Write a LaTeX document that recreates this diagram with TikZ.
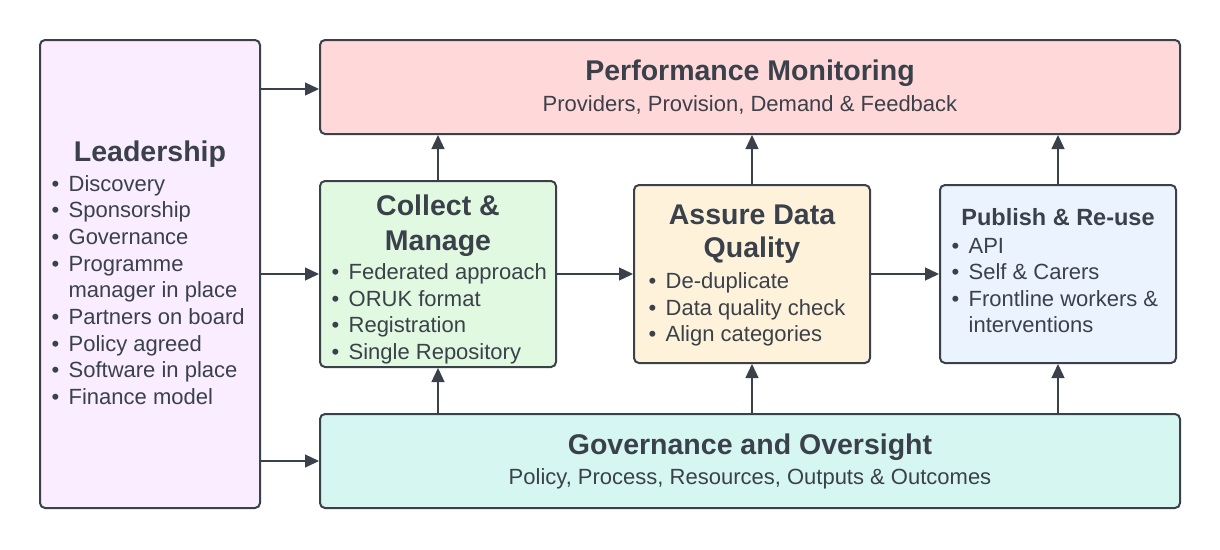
\documentclass[tikz,border=0pt]{standalone}
\usepackage{fontspec}
\setmainfont{Liberation Sans}
\usetikzlibrary{arrows.meta}
\definecolor{ink}{HTML}{3A414A}
\definecolor{leadfill}{HTML}{F9EDFF}
\definecolor{perffill}{HTML}{FFD9D9}
\definecolor{collfill}{HTML}{E1F9E1}
\definecolor{assurefill}{HTML}{FFF2DB}
\definecolor{pubfill}{HTML}{EBF3FF}
\definecolor{govfill}{HTML}{D6F7F1}
\newcommand{\bul}{\makebox[17pt][l]{•}}
\newcommand{\gap}{\makebox[17pt][l]{}}

\begin{document}
\begin{tikzpicture}[x=1pt,y=-1pt,->,>={Triangle[length=14pt,width=13pt]},draw=ink,line width=1.3pt,text=ink]
    \tikzstyle{box}=[draw=ink,line width=2pt,rounded corners=5pt,inner sep=0pt]
    \tikzstyle{title}=[font=\fontsize{28.5}{34}\selectfont\bfseries,anchor=base,inner sep=0pt]
    \tikzstyle{sub}=[font=\fontsize{22}{27}\selectfont,anchor=base,inner sep=0pt]
    \tikzstyle{item}=[font=\fontsize{22}{27}\selectfont,anchor=base west,inner sep=0pt]
    \useasboundingbox (0,0) rectangle (1220,549);

    % Draw the boxes
    \node[box,fill=leadfill,minimum width=220pt,minimum height=468pt] (lead) at (150,274) {};
    \node[box,fill=perffill,minimum width=860pt,minimum height=94pt] (perf) at (750,87) {};
    \node[box,fill=collfill,minimum width=236pt,minimum height=186pt] (coll) at (438,274) {};
    \node[box,fill=assurefill,minimum width=236pt,minimum height=178pt] (assure) at (752,274) {};
    \node[box,fill=pubfill,minimum width=236pt,minimum height=178pt] (pub) at (1058,274) {};
    \node[box,fill=govfill,minimum width=860pt,minimum height=94pt] (gov) at (750,461) {};

    % Titles
    \node[title] (lead-t) at (150,161) {Leadership};
    \node[title] (perf-t) at (750,80.7) {Performance Monitoring};
    \node[sub] (perf-s) at (750,111) {Providers, Provision, Demand \& Feedback};
    \node[title] (coll-t1) at (438,215) {Collect \&};
    \node[title] (coll-t2) at (438,250) {Manage};
    \node[title] (assure-t1) at (752,224) {Assure Data};
    \node[title] (assure-t2) at (752,257.5) {Quality};
    \node[title,font=\fontsize{23.5}{28}\selectfont\bfseries] (pub-t) at (1058,225) {Publish \& Re-use};
    \node[title] (gov-t) at (750,454.3) {Governance and Oversight};
    \node[sub] (gov-s) at (750,484) {Policy, Process, Resources, Outputs \& Outcomes};

    % Lists
    \foreach \txt [count=\i] in {\bul Discovery,\bul Sponsorship,\bul Governance,\bul Programme,
        \gap manager in place,\bul Partners on board,\bul Policy agreed,\bul Software in place,\bul Finance model}
        \node[item] (L-\i) at (51,{191+26.7*(\i-1)}) {\txt};

    \foreach \txt [count=\i] in {Federated approach,ORUK format,Registration,Single Repository}
        \node[item] (C-\i) at (331,{279.3+26.7*(\i-1)}) {\bul\txt};

    \foreach \txt [count=\i] in {De-duplicate,Data quality check,Align categories}
        \node[item] (A-\i) at (648,{288.3+26.8*(\i-1)}) {\bul\txt};

    \foreach \txt [count=\i] in {\bul API,\bul Self \& Carers,\bul Frontline workers \&,\gap interventions}
        \node[item] (P-\i) at (951,{253.3+26.5*(\i-1)}) {\txt};

    % Connectors
    \draw (lead.east |- 0,89) -- (perf.west |- 0,89);
    \draw (lead.east |- coll.west) -- (coll.west);
    \draw (lead.east |- gov.west) -- (gov.west);
    \draw (coll.east) -- (assure.west);
    \draw (assure.east) -- (pub.west);

    \foreach \name in {coll,assure,pub} {
        \draw (\name.north) -- (\name.north |- perf.south);
        \draw (\name.south |- gov.north) -- (\name.south);
    }
\end{tikzpicture}
\end{document}
